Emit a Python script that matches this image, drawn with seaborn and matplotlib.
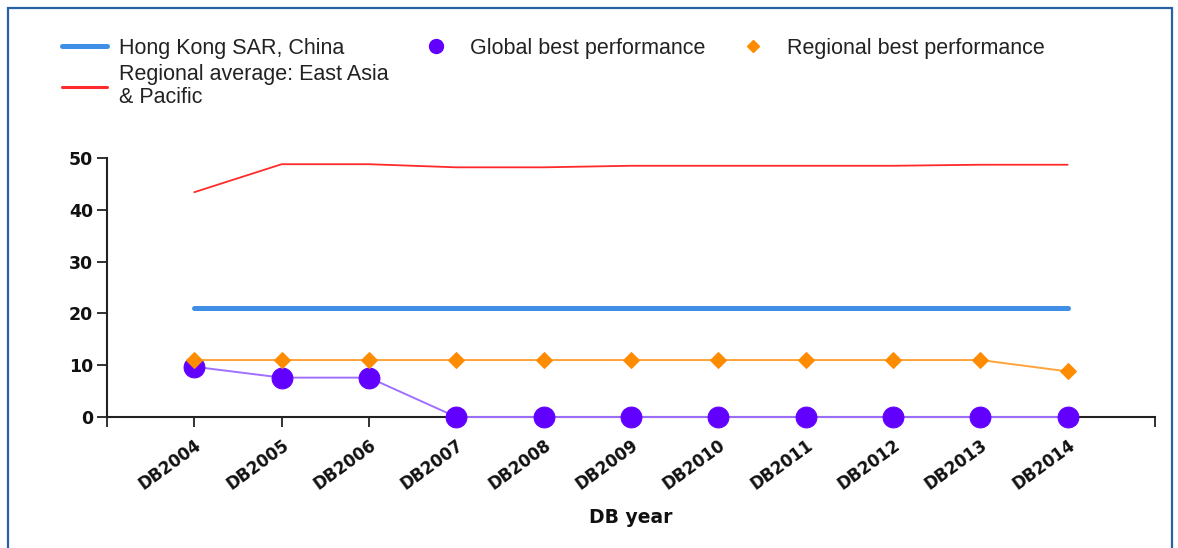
import numpy as np
import pandas as pd
import matplotlib
matplotlib.use("Agg")
import matplotlib.pyplot as plt
import seaborn as sns
from matplotlib.lines import Line2D
from matplotlib.patches import Rectangle

# Data
years = ["DB2004", "DB2005", "DB2006", "DB2007", "DB2008", "DB2009",
         "DB2010", "DB2011", "DB2012", "DB2013", "DB2014"]
hong_kong = [21, 21, 21, 21, 21, 21, 21, 21, 21, 21, 21]
regional_avg = [43.4, 48.8, 48.8, 48.2, 48.2, 48.5, 48.5, 48.5, 48.5, 48.7, 48.7]
global_best = [9.7, 7.6, 7.6, 0, 0, 0, 0, 0, 0, 0, 0]
regional_best = [11, 11, 11, 11, 11, 11, 11, 11, 11, 11, 8.8]

df = pd.DataFrame({
    "year": years,
    "hk": hong_kong,
    "avg": regional_avg,
    "glob": global_best,
    "reg": regional_best,
})

BLUE = "#3f8fe6"
RED = "#ff2a2a"
PURPLE = "#6200ff"
PURPLE_LINE = "#a070ff"
ORANGE = "#ff8c00"
ORANGE_LINE = "#ffa33a"

sns.set_style("white")
plt.rcParams["font.family"] = ["DejaVu Sans"]

fig = plt.figure(figsize=(11.78, 5.48), dpi=100)
ax = fig.add_axes([107 / 1178, 131 / 548, (1155 - 107) / 1178, (390 - 131) / 548])

sns.lineplot(data=df, x="year", y="avg", ax=ax, color=RED, linewidth=1.3, sort=False)
sns.lineplot(data=df, x="year", y="hk", ax=ax, color=BLUE, linewidth=3.6, sort=False)
sns.lineplot(data=df, x="year", y="glob", ax=ax, color=PURPLE_LINE, linewidth=1.4,
             marker="o", markersize=15, markerfacecolor=PURPLE, markeredgecolor=PURPLE,
             sort=False, clip_on=False, zorder=4)
sns.lineplot(data=df, x="year", y="reg", ax=ax, color=ORANGE_LINE, linewidth=1.4,
             marker="D", markersize=8, markerfacecolor=ORANGE, markeredgecolor=ORANGE,
             sort=False, clip_on=False, zorder=5)

ax.set_xlim(-1, 11)
ax.set_ylim(0, 50)
ax.set_xticks(np.arange(-1, 12))
ax.set_xticklabels([""] + years + [""], rotation=36, ha="right",
                   rotation_mode="anchor", fontweight="bold", fontsize=12, color="#111111")
ax.set_yticks([0, 10, 20, 30, 40, 50])
ax.set_yticklabels(["0", "10", "20", "30", "40", "50"], fontweight="bold",
                   fontsize=12.5, color="#111111")
ax.tick_params(axis="both", direction="out", length=7, width=1.3, color="#222222",
               bottom=True, left=True)
ax.tick_params(axis="x", pad=7)
ax.tick_params(axis="y", pad=3)
ax.set_xlabel("DB year", fontweight="bold", fontsize=13.5, color="#111111", labelpad=10)
ax.set_ylabel("")

sns.despine(ax=ax)
for side in ["left", "bottom"]:
    ax.spines[side].set_color("#222222")
    ax.spines[side].set_linewidth(1.5)

handles = [
    Line2D([0], [0], color=BLUE, linewidth=3.6),
    Line2D([0], [0], color=RED, linewidth=2.2),
    Line2D([0], [0], linestyle="none", marker="o", markersize=10, color=PURPLE),
    Line2D([0], [0], linestyle="none", marker="D", markersize=6, color=ORANGE),
]
labels = [
    "Hong Kong SAR, China",
    "Regional average: East Asia\n& Pacific",
    "Global best performance",
    "Regional best performance",
]
leg = fig.legend(handles, labels, ncol=3, loc="upper left",
                 bbox_to_anchor=(53 / 1178, 1 - 29 / 548), frameon=False,
                 prop={"family": "Liberation Sans", "size": 15.5},
                 handlelength=2.1, handletextpad=0.55, columnspacing=1.15,
                 labelspacing=0.25, borderaxespad=0)
for t in leg.get_texts():
    t.set_color("#222222")
    t.set_linespacing(1.15)

# blue frame around the chart panel
fig.add_artist(Rectangle((8 / 1178, -0.1), (1172 - 8) / 1178, 1.1 - 8 / 548,
                         transform=fig.transFigure, fill=False,
                         edgecolor="#2a60a6", linewidth=1.6))

fig.savefig("out.png", dpi=100)
